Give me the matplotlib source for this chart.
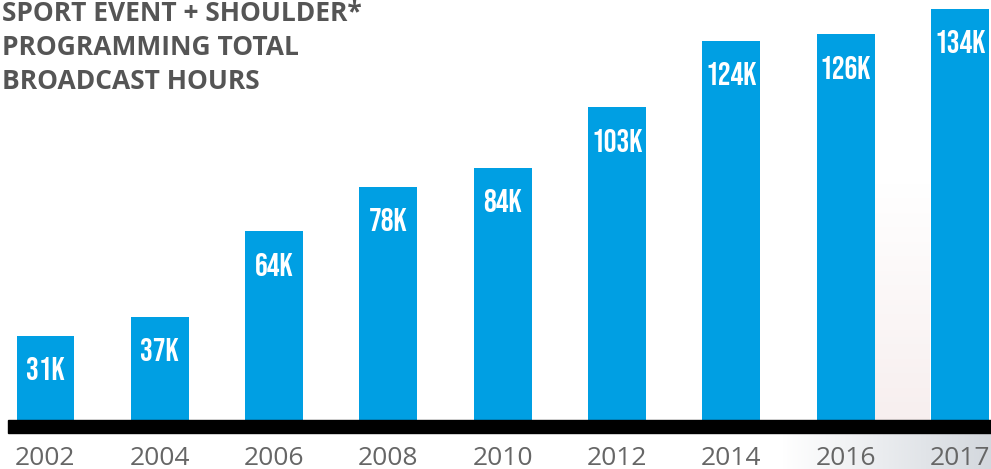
import matplotlib.pyplot as plt
import numpy as np

# broadcast hours per year (thousands)
years = ['2002', '2004', '2006', '2008', '2010', '2012', '2014', '2016', '2017']
hours = [31, 37, 64, 78, 84, 103, 124, 126, 134]
labels = ['31K', '37K', '64K', '78K', '84K', '103K', '124K', '126K', '134K']
title = 'SPORT EVENT + SHOULDER*\nPROGRAMMING TOTAL\nBROADCAST HOURS'

bar_color = '#009fe3'
gray = '#666666'

fig = plt.figure(figsize=(9.91, 4.69), dpi=100)
ax = fig.add_axes([0, 0, 1, 1])

x = np.arange(len(years))
ax.bar(x, hours, width=0.507, color=bar_color, zorder=2)

# faint background glow on the right (photo remnant in original)
pink = np.ones((50, 2, 4))
pink[..., :3] = np.array([0.96, 0.91, 0.91])
pink[..., 3] = np.linspace(0.0, 0.7, 50)[:, None]
ax.imshow(pink, extent=(7.26, 7.74, 4.5, 80), origin='upper', aspect='auto',
          interpolation='bilinear', zorder=1)
shade = np.ones((2, 60, 4))
shade[..., :3] = np.array([0.80, 0.82, 0.85])
shade[..., 3] = np.linspace(0.0, 0.85, 60)[None, :]
ax.imshow(shade, extent=(6.43, 8.272, -10.93, 0.5), aspect='auto',
          interpolation='bilinear', zorder=1)

# axis limits chosen so the pixel layout matches the original
ax.set_xlim(-0.398, 8.272)
ax.set_ylim(-10.93, 136.8)
ax.axis('off')

# thick black baseline
ax.axhspan(0.56, 4.5, xmin=(8 / 991), xmax=1, color='black', zorder=3)

# value labels inside bars
for xi, h, lab in zip(x, hours, labels):
    ax.text(xi, h - 10.4, lab, ha='center', va='center', color='white',
            fontsize=23, family=['Bebas Neue', 'Roboto Condensed', 'DejaVu Sans'],
            zorder=4)

# year labels
for xi, yr in zip(x, years):
    ax.text(xi, -7.5, yr, ha='center', va='center', color=gray,
            fontsize=19, family=['Open Sans', 'DejaVu Sans'], zorder=4)

fig.text(0.002, 0.999, title, ha='left', va='top', color='#555555',
         fontsize=19, fontweight='bold', linespacing=1.32,
         family=['Open Sans', 'DejaVu Sans'])

fig.savefig('out.png', dpi=100)
